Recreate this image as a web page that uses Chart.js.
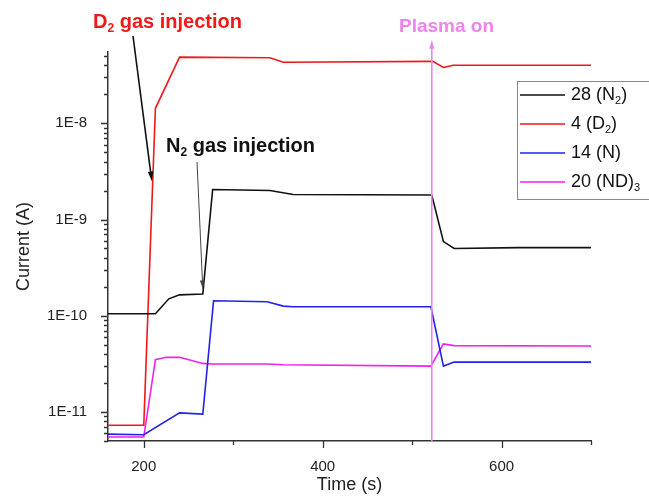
<!DOCTYPE html>
<html>
<head>
<meta charset="utf-8">
<script src="https://cdn.jsdelivr.net/npm/chart.js@4.4.0/dist/chart.umd.min.js"></script>
<style>
  html, body { margin: 0; padding: 0; background: #fff; }
  #wrap { width: 649px; height: 500px; }
</style>
</head>
<body>
<div id="wrap"><canvas id="c" width="649" height="500"></canvas></div>
<script>
// time (s) and ion current (A) per mass channel
const tN2  = [160, 213, 228, 240, 266, 277, 341, 367, 522, 535, 547, 620, 700];
const iN2  = [1.05e-10, 1.05e-10, 1.5e-10, 1.65e-10, 1.68e-10, 2.05e-9, 2.0e-9, 1.82e-9, 1.8e-9, 5.9e-10, 5.0e-10, 5.1e-10, 5.1e-10];

const tD2  = [160, 200, 213, 240, 341, 356, 523, 535, 546, 700];
const iD2  = [7.3e-12, 7.3e-12, 1.43e-8, 4.87e-8, 4.8e-8, 4.3e-8, 4.4e-8, 3.8e-8, 4.0e-8, 4.0e-8];

const tN   = [160, 200, 240, 266, 278, 338, 356, 367, 521, 535, 547, 700];
const iN   = [5.9e-12, 5.8e-12, 9.8e-12, 9.5e-12, 1.43e-10, 1.4e-10, 1.26e-10, 1.24e-10, 1.24e-10, 3.0e-11, 3.3e-11, 3.3e-11];

const tND3 = [160, 200, 213, 225, 240, 266, 276, 338, 356, 521, 535, 547, 700];
const iND3 = [5.5e-12, 5.5e-12, 3.5e-11, 3.7e-11, 3.7e-11, 3.2e-11, 3.16e-11, 3.16e-11, 3.1e-11, 3.0e-11, 5.1e-11, 4.9e-11, 4.85e-11];

// legend names, with subscript pieces
const seriesNames = [
  [{t: '28 (N'}, {t: '2', sub: true}, {t: ')'}],
  [{t: '4 (D'}, {t: '2', sub: true}, {t: ')'}],
  [{t: '14 (N)'}],
  [{t: '20 (ND)'}, {t: '3', sub: true}]
];
const seriesColors = ['#111111', '#f01818', '#2222ee', '#f020f0'];

const xTicks = [200, 400, 600];
const yTicks = [1e-11, 1e-10, 1e-9, 1e-8];

const plasmaTime = 522;

const FONT = '"Liberation Sans", Arial, sans-serif';

function pts(ts, vs) {
  return ts.map((t, i) => ({ x: t, y: vs[i] }));
}

function plainText(parts) {
  return parts.map(p => p.t).join('');
}

function drawRich(ctx, parts, x, y, size, weight, color) {
  let cx = x;
  ctx.fillStyle = color;
  ctx.textBaseline = 'middle';
  ctx.textAlign = 'left';
  for (const p of parts) {
    const s = p.sub ? Math.round(size * 0.62) : size;
    ctx.font = `${weight} ${s}px ${FONT}`;
    ctx.fillText(p.t, cx, p.sub ? y + size * 0.32 : y);
    cx += ctx.measureText(p.t).width;
  }
}

function arrow(ctx, x1, y1, x2, y2, color, width, head) {
  const a = Math.atan2(y2 - y1, x2 - x1);
  ctx.save();
  ctx.strokeStyle = color;
  ctx.fillStyle = color;
  ctx.lineWidth = width;
  ctx.beginPath();
  ctx.moveTo(x1, y1);
  ctx.lineTo(x2 - Math.cos(a) * head * 0.8, y2 - Math.sin(a) * head * 0.8);
  ctx.stroke();
  ctx.beginPath();
  ctx.moveTo(x2, y2);
  ctx.lineTo(x2 - head * Math.cos(a - 0.28), y2 - head * Math.sin(a - 0.28));
  ctx.lineTo(x2 - head * Math.cos(a + 0.28), y2 - head * Math.sin(a + 0.28));
  ctx.closePath();
  ctx.fill();
  ctx.restore();
}

const extras = {
  id: 'extras',
  afterDraw(chart) {
    const ctx = chart.ctx;
    const xs = chart.scales.x, ys = chart.scales.y;
    const area = chart.chartArea;

    // tick marks, outward
    ctx.save();
    ctx.strokeStyle = '#333';
    ctx.lineWidth = 1.3;
    ctx.beginPath();
    for (let t = 200; t <= 700; t += 100) {
      const px = Math.round(xs.getPixelForValue(t)) + 0.5;
      const len = (t % 200 === 0) ? 7 : 4;
      ctx.moveTo(px, area.bottom);
      ctx.lineTo(px, area.bottom + len);
    }
    for (let e = -12; e <= -8; e++) {
      for (let m = 1; m <= 9; m++) {
        const v = m * Math.pow(10, e);
        if (v < ys.min || v > ys.max) continue;
        const py = Math.round(ys.getPixelForValue(v)) + 0.5;
        const len = m === 1 ? 7 : 4;
        ctx.moveTo(area.left, py);
        ctx.lineTo(area.left - len, py);
      }
    }
    ctx.stroke();
    ctx.restore();

    // plasma on marker
    const px = xs.getPixelForValue(plasmaTime);
    arrow(ctx, px, area.bottom, px, 40, '#ee82ee', 1.6, 9);
    drawRich(ctx, [{t: 'Plasma on'}], 399, 27, 19, 'bold', '#ee82ee');

    // injection labels and arrows
    drawRich(ctx, [{t: 'D'}, {t: '2', sub: true}, {t: ' gas injection'}], 93, 22, 20, 'bold', '#f01818');
    arrow(ctx, 133, 36, xs.getPixelForValue(209), ys.getPixelForValue(2.5e-9), '#111', 1.6, 10);

    drawRich(ctx, [{t: 'N'}, {t: '2', sub: true}, {t: ' gas injection'}], 166, 146, 20, 'bold', '#111');
    arrow(ctx, 197, 162, xs.getPixelForValue(266), ys.getPixelForValue(1.9e-10), '#444', 1, 9);

    // legend box
    ctx.save();
    ctx.strokeStyle = '#888';
    ctx.lineWidth = 1;
    ctx.strokeRect(517.5, 81.5, 150, 118);
    ctx.restore();
    chart.data.datasets.forEach((ds, i) => {
      const ly = 95 + i * 29;
      ctx.save();
      ctx.strokeStyle = ds.borderColor;
      ctx.lineWidth = 1.6;
      ctx.beginPath();
      ctx.moveTo(520, ly);
      ctx.lineTo(565, ly);
      ctx.stroke();
      ctx.restore();
      drawRich(ctx, seriesNames[i], 571, ly, 18, 'normal', '#111');
    });
  }
};

new Chart(document.getElementById('c'), {
  type: 'line',
  data: {
    datasets: [
      { label: plainText(seriesNames[0]), data: pts(tN2, iN2),  borderColor: seriesColors[0] },
      { label: plainText(seriesNames[1]), data: pts(tD2, iD2),  borderColor: seriesColors[1] },
      { label: plainText(seriesNames[2]), data: pts(tN, iN),    borderColor: seriesColors[2] },
      { label: plainText(seriesNames[3]), data: pts(tND3, iND3), borderColor: seriesColors[3] }
    ]
  },
  options: {
    responsive: false,
    animation: false,
    layout: { padding: { top: 52, right: 58, bottom: 0, left: 0 } },
    elements: {
      line: { borderWidth: 1.6, tension: 0, fill: false },
      point: { radius: 0, hoverRadius: 0 }
    },
    plugins: { legend: { display: false }, tooltip: { enabled: false } },
    scales: {
      x: {
        type: 'linear',
        min: 160,
        max: 700,
        grid: { display: false },
        border: { display: true, color: '#333', width: 1.5 },
        afterBuildTicks: s => { s.ticks = xTicks.map(v => ({ value: v })); },
        afterFit: s => { s.height = 59; },
        ticks: { color: '#222', padding: 9, font: { family: FONT, size: 15 } },
        title: {
          display: true, text: 'Time (s)', color: '#222',
          padding: { top: 0, bottom: 4 },
          font: { family: FONT, size: 18 }
        }
      },
      y: {
        type: 'logarithmic',
        min: 5e-12,
        max: 5.5e-8,
        grid: { display: false },
        border: { display: true, color: '#333', width: 1.5 },
        afterBuildTicks: s => { s.ticks = yTicks.map(v => ({ value: v })); },
        afterFit: s => { s.width = 108; },
        ticks: {
          color: '#222', padding: 13, font: { family: FONT, size: 15 },
          callback: v => '1E' + Math.round(Math.log10(v))
        },
        title: {
          display: true, text: 'Current (A)', color: '#222',
          padding: { top: 13, bottom: 0 },
          font: { family: FONT, size: 18 }
        }
      }
    }
  },
  plugins: [extras]
});
</script>
</body>
</html>
